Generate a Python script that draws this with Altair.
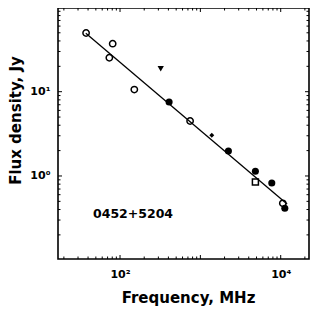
import altair as alt
import pandas as pd

# ---- data ----
oc_freq = [37.8, 73.6, 81.0, 150.6, 745, 10620]     # open circles
oc_flux = [49.7, 25.3, 37.1, 10.6, 4.49, 0.474]
fc_freq = [408, 2234, 4842, 7745, 11250]             # filled circles
fc_flux = [7.55, 1.98, 1.14, 0.826, 0.414]
tri_freq = [321]                                      # filled down-triangle
tri_flux = [18.7]
dia_freq = [1387]                                     # small diamond
dia_flux = [3.04]
sq_freq = [4842]                                      # open square
sq_flux = [0.849]
fit_freq = [37.5, 12000]                              # power-law fit
fit_flux = [49.5, 0.466]

source_name = ["0452+5204"]
label_freq = [46.1]
label_flux = [0.32]

x_tick_vals = [100, 10000]
x_tick_text = ["10²", "10⁴"]
y_tick_vals = [1, 10]
y_tick_text = ["10⁰", "10¹"]

x_major = [100, 1000, 10000]
x_minor = [m * 10 ** e for e in (1, 2, 3, 4) for m in range(2, 10) if 17 <= m * 10 ** e <= 22000]
y_major = [1, 10]
y_minor = [m * 10 ** e for e in (-1, 0, 1) for m in range(2, 10)]

x_domain = [16.9, 22500]
y_domain = [0.1035, 98.4]

W, H = 251, 251
FONT = "DejaVu Sans"


def label_expr(vals, texts):
    expr = "''"
    for v, t in zip(vals, texts):
        expr = f"(abs(datum.value - {v}) < {v} * 1e-6 ? '{t}' : {expr})"
    return expr


xs = alt.Scale(type="log", domain=x_domain, nice=False)
ys = alt.Scale(type="log", domain=y_domain, nice=False)

x_axis = alt.Axis(values=x_tick_vals, labelExpr=label_expr(x_tick_vals, x_tick_text),
                  grid=False, ticks=False, domain=False, labelPadding=9,
                  title="Frequency, MHz", titleX=130, titleY=43, titleBaseline="alphabetic")
y_axis = alt.Axis(values=y_tick_vals, labelExpr=label_expr(y_tick_vals, y_tick_text),
                  grid=False, ticks=False, domain=False, labelPadding=8,
                  title="Flux density, Jy", titleX=-37.5, titleY=112, titleBaseline="alphabetic",
                  titleAngle=270)


def df(f, s):
    return pd.DataFrame({"f": f, "s": s})


X = alt.X("f:Q", scale=xs, axis=x_axis)
Y = alt.Y("s:Q", scale=ys, axis=y_axis)

fit = alt.Chart(df(fit_freq, fit_flux)).mark_line(color="black", strokeWidth=1.3).encode(x=X, y=Y)

open_c = alt.Chart(df(oc_freq, oc_flux)).mark_point(
    shape="circle", filled=False, color="black", strokeWidth=1.5, size=40, opacity=1
).encode(x=X, y=Y)
fill_c = alt.Chart(df(fc_freq, fc_flux)).mark_point(
    shape="circle", filled=True, color="black", size=50, opacity=1
).encode(x=X, y=Y)
tri = alt.Chart(df(tri_freq, tri_flux)).mark_point(
    shape="triangle-down", filled=True, color="black", size=40, opacity=1
).encode(x=X, y=Y)
dia = alt.Chart(df(dia_freq, dia_flux)).mark_point(
    shape="diamond", filled=True, color="black", size=24, opacity=1
).encode(x=X, y=Y)
sq = alt.Chart(df(sq_freq, sq_flux)).mark_point(
    shape="square", filled=False, color="black", strokeWidth=1.5, size=36, opacity=1
).encode(x=X, y=Y)

txt = alt.Chart(pd.DataFrame({"f": label_freq, "s": label_flux, "t": source_name})).mark_text(
    align="left", baseline="alphabetic", font=FONT, fontWeight="bold", fontSize=12.5, color="black"
).encode(x=X, y=Y, text="t:N")


def xticks(vals, length):
    d = pd.DataFrame({"f": vals})
    b = alt.Chart(d).mark_rule(color="black", strokeWidth=1)
    return [b.encode(x=X, y=alt.value(H), y2=alt.value(H - length)),
            b.encode(x=X, y=alt.value(0), y2=alt.value(length))]


def yticks(vals, length):
    d = pd.DataFrame({"s": vals})
    b = alt.Chart(d).mark_rule(color="black", strokeWidth=1)
    return [b.encode(y=Y, x=alt.value(0), x2=alt.value(length)),
            b.encode(y=Y, x=alt.value(W), x2=alt.value(W - length))]


ticks = xticks(x_major, 4) + xticks(x_minor, 2.5) + yticks(y_major, 4) + yticks(y_minor, 2.5)

chart = alt.layer(fit, *ticks, open_c, fill_c, tri, dia, sq, txt).properties(
    width=W, height=H,
    autosize=alt.AutoSizeParams(type="none"),
    padding={"left": 50, "top": 0, "right": 10, "bottom": 50},
).configure_view(
    stroke="black", strokeWidth=1.6
).configure_axis(
    labelFont=FONT, labelFontWeight="bold", labelFontSize=11, labelColor="black",
    titleFont=FONT, titleFontWeight="bold", titleFontSize=15, titleColor="black",
)

chart.save("out.html", embed_options={"renderer": "svg", "actions": False})
